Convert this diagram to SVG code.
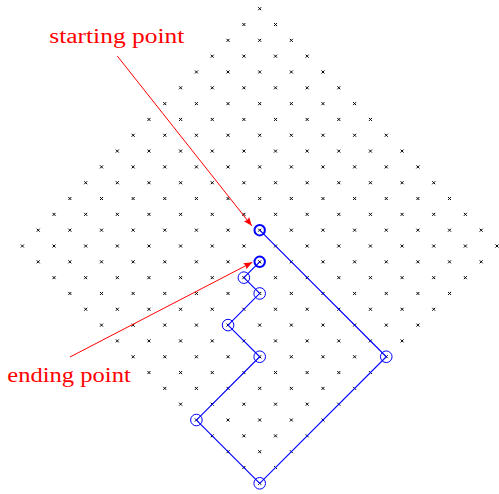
<svg xmlns="http://www.w3.org/2000/svg" xmlns:xlink="http://www.w3.org/1999/xlink" width="499" height="494" viewBox="0 0 499 494">
<style>
.mk{fill:none;stroke:#000;stroke-width:1}
.path{fill:none;stroke:#0000ff;stroke-width:1.1;stroke-linejoin:round}
.c{fill:none;stroke:#0000ff;stroke-width:1}
.cb{fill:none;stroke:#0000ff;stroke-width:2}
.arr{fill:none;stroke:#ff0000;stroke-width:1}
.lbl{fill:#ff0000;font-family:"Liberation Serif","Times New Roman",serif;font-size:20px;text-anchor:middle}
</style>
<defs>
<path id="m" class="mk" d="M-1.5,-1.5L1.5,1.5M-1.5,1.5L1.5,-1.5"/>
<g id="row">
<use href="#m" x="0" y="0"/><use href="#m" x="15.82" y="15.82"/><use href="#m" x="31.64" y="31.64"/><use href="#m" x="47.46" y="47.46"/>
<use href="#m" x="63.28" y="63.28"/><use href="#m" x="79.1" y="79.1"/><use href="#m" x="94.92" y="94.92"/><use href="#m" x="110.74" y="110.74"/>
<use href="#m" x="126.56" y="126.56"/><use href="#m" x="142.38" y="142.38"/><use href="#m" x="158.2" y="158.2"/><use href="#m" x="174.02" y="174.02"/>
<use href="#m" x="189.84" y="189.84"/><use href="#m" x="205.66" y="205.66"/><use href="#m" x="221.48" y="221.48"/><use href="#m" x="237.3" y="237.3"/>
</g>
<marker id="ah" viewBox="-9 -4 10 8" refX="0" refY="0" markerWidth="10" markerHeight="8" markerUnits="userSpaceOnUse" orient="auto">
<path d="M0,0 L-8.5,-3.4 Q-6.5,0 -8.5,3.4 Z" fill="#ff0000"/>
</marker>
</defs>
<g id="lattice">
<use href="#row" x="22.4" y="246"/>
<use href="#row" x="38.22" y="230.18"/>
<use href="#row" x="54.04" y="214.36"/>
<use href="#row" x="69.86" y="198.54"/>
<use href="#row" x="85.68" y="182.72"/>
<use href="#row" x="101.5" y="166.9"/>
<use href="#row" x="117.32" y="151.08"/>
<use href="#row" x="133.14" y="135.26"/>
<use href="#row" x="148.96" y="119.44"/>
<use href="#row" x="164.78" y="103.62"/>
<use href="#row" x="180.6" y="87.8"/>
<use href="#row" x="196.42" y="71.98"/>
<use href="#row" x="212.24" y="56.16"/>
<use href="#row" x="228.06" y="40.34"/>
<use href="#row" x="243.88" y="24.52"/>
<use href="#row" x="259.7" y="8.7"/>
</g>
<g id="connectors">
<polyline class="path" points="259.7,230.18 386.26,356.74 259.7,483.3 196.42,420.02 259.7,356.74 228.06,325.1 259.7,293.46 243.88,277.64 259.7,261.82"/>
<line class="arr" x1="117.3" y1="56" x2="251.8" y2="225.8" marker-end="url(#ah)"/>
<line class="arr" x1="70" y1="357" x2="252.3" y2="262.3" marker-end="url(#ah)"/>
</g>
<g id="start-node"><circle class="cb" cx="259.7" cy="230.18" r="5.2"/></g>
<g id="end-node"><circle class="cb" cx="259.7" cy="261.82" r="5.2"/></g>
<g id="corners">
<circle class="c" cx="386.26" cy="356.74" r="5.8"/>
<circle class="c" cx="259.7" cy="483.3" r="5.8"/>
<circle class="c" cx="196.42" cy="420.02" r="5.8"/>
<circle class="c" cx="259.7" cy="356.74" r="5.8"/>
<circle class="c" cx="228.06" cy="325.1" r="5.8"/>
<circle class="c" cx="259.7" cy="293.46" r="5.8"/>
<circle class="c" cx="243.88" cy="277.64" r="5.8"/>
</g>
<g id="label-start"><text class="lbl" x="116.8" y="42.5" textLength="135" lengthAdjust="spacingAndGlyphs">starting point</text></g>
<g id="label-end"><text class="lbl" x="69" y="382" textLength="123.5" lengthAdjust="spacingAndGlyphs">ending point</text></g>
</svg>
